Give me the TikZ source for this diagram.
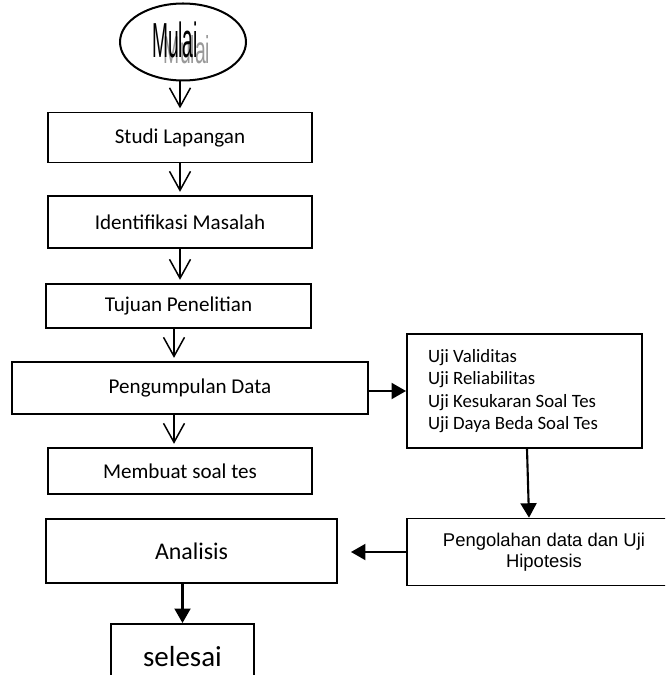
\documentclass[tikz,border=0pt]{standalone}
\usepackage{fontspec}
\setmainfont{Carlito}
\newfontfamily\arialfont{Liberation Sans}
\usepackage{graphicx}
\usetikzlibrary{shapes.geometric,arrows.meta,positioning}

\begin{document}
\begin{tikzpicture}[
    x=0.02cm, y=-0.02cm,
    stepbox/.style={draw, rectangle, line width=0.75pt, inner sep=0pt, font=\fontsize{12}{14}\selectfont},
    boldbox/.style={draw, rectangle, line width=1.15pt, inner sep=0pt},
    terminal/.style={draw, ellipse, line width=1.15pt, minimum width=2.52cm, minimum height=1.54cm},
    openarrow/.style={-{Straight Barb[length=0.38cm,width=0.42cm]}, line width=0.85pt, shorten >=0.07cm},
    solidarrow/.style={-{Triangle[length=0.29cm,width=0.32cm]}, line width=1.2pt},
]
\useasboundingbox (0,0) rectangle (665,675);
\clip (0,0) rectangle (665,675);

% Start
\node[terminal] (mulai) at (183,42) {};
\node[anchor=base, text=black!40, font=\arialfont\fontsize{22}{22}\selectfont] (mulaighost) at (187,64) {\scalebox{0.5}[1]{Mulai}};
\node[anchor=base, font=\arialfont\fontsize{28}{28}\selectfont] (mulaitext) at (175,58) {\scalebox{0.39}[1]{Mulai}};

% Main steps
\node[stepbox, minimum width=5.28cm, minimum height=1.0cm] (studi) at (180,137.5) {Studi Lapangan};
\node[stepbox, minimum width=5.28cm, minimum height=1.04cm] (ident) at (180,222) {Identifikasi Masalah};
\node[stepbox, minimum width=5.3cm, minimum height=0.88cm] (tujuan) at (178.5,306) {Tujuan Penelitian};
\node[stepbox, minimum width=7.12cm, minimum height=1.04cm] (kumpul) at (190,388) {Pengumpulan Data};
\node[stepbox, minimum width=5.28cm, minimum height=0.92cm] (membuat) at (180,471) {Membuat soal tes};

% Tests and processing
\node[boldbox, minimum width=4.7cm, minimum height=2.28cm, text width=3.86cm, inner xsep=0.42cm, align=flush left, font=\fontsize{10.7}{12.8}\selectfont] (uji) at (524.5,391) {Uji Validitas\\ Uji Reliabilitas\\ Uji Kesukaran Soal Tes\\ Uji Daya Beda Soal Tes};
\node[boldbox, line width=0.9pt, minimum width=5.48cm, minimum height=1.34cm, align=center, font=\arialfont\fontsize{10.5}{12}\selectfont] (olah) at (544,552) {Pengolahan data dan Uji\\ Hipotesis};

% End
\node[boldbox, minimum width=5.82cm, minimum height=1.28cm, font=\fontsize{13.6}{16}\selectfont] (analisis) at (191.5,551) {Analisis};
\node[boldbox, minimum width=2.86cm, minimum height=1.32cm, font=\fontsize{16.5}{19}\selectfont] (selesai) at (182.5,657) {selesai};

% Edges
\draw[openarrow] (studi.north |- mulai.south) -- (studi.north);
\draw[openarrow] (studi.south) -- (ident.north);
\draw[openarrow] (ident.south) -- (ident.south |- tujuan.north);
\draw[openarrow] ([xshift=-0.09cm]tujuan.south) -- ([xshift=-0.09cm]tujuan.south |- kumpul.north);
\draw[openarrow] ([xshift=-0.12cm]membuat.north |- kumpul.south) -- ([xshift=-0.12cm]membuat.north);
\draw[solidarrow] (kumpul.east |- uji.west) -- (uji.west);
\draw[solidarrow] ([xshift=0.05cm]uji.south) -- ([xshift=-0.3cm]olah.north);
\draw[solidarrow, shorten >=0.26cm] (olah.west) -- (olah.west -| analisis.east);
\draw[solidarrow] (selesai.north |- analisis.south) -- (selesai.north);

\end{tikzpicture}
\end{document}
